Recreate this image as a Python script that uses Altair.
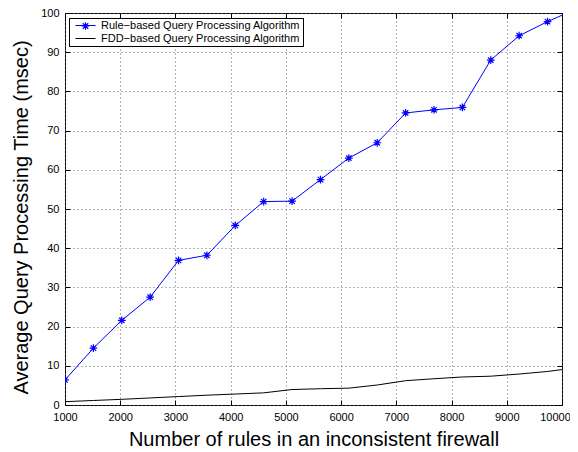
import altair as alt
import pandas as pd

# ---- data ----
rules = [1000, 1514, 2028, 2542, 3056, 3570, 4084, 4598, 5112, 5626,
         6140, 6654, 7168, 7682, 8196, 8710, 9224, 9738, 10252]
rule_based = [6.4, 14.5, 21.6, 27.5, 36.9, 38.2, 45.8, 51.9, 52.0, 57.5,
              63.0, 66.9, 74.5, 75.3, 75.9, 88.0, 94.2, 97.8, 101.0]
fdd_based = [0.85, 1.15, 1.45, 1.8, 2.15, 2.5, 2.8, 3.1, 3.95, 4.15,
             4.3, 5.1, 6.2, 6.7, 7.15, 7.35, 7.9, 8.55, 9.5]
series_names = ["Rule\u2212based Query Processing Algorithm",
                "FDD\u2212based Query Processing Algorithm"]
x_ticks = [1000, 2000, 3000, 4000, 5000, 6000, 7000, 8000, 9000, 10000]
y_ticks = [0, 10, 20, 30, 40, 50, 60, 70, 80, 90, 100]
x_title = "Number of rules in an inconsistent firewall"
y_title = "Average Query Processing Time (msec)"

n = len(rules)
df = pd.DataFrame({
    "rules": rules + rules,
    "time": rule_based + fdd_based,
    "series": [series_names[0]] * n + [series_names[1]] * n,
})

W, H = 497, 392
FONT = "Liberation Sans"
STAR = "M-1,0H1M0,-1V1M-0.7,-0.7L0.7,0.7M-0.7,0.7L0.7,-0.7"

xscale = alt.Scale(domain=[1000, 10000], nice=False, zero=False)
yscale = alt.Scale(domain=[0, 100], nice=False, zero=False)

legend = alt.Legend(
    title=None, orient="none", legendX=4, legendY=5,
    fillColor="white", strokeColor="black", padding=2, rowPadding=1,
    cornerRadius=0, labelFont=FONT, labelFontSize=11, labelColor="black",
    labelLimit=400, labelOffset=5, symbolSize=400, symbolType="stroke",
    symbolStrokeWidth=1, symbolOffset=4, clipHeight=11, zindex=0,
)
color = alt.Color("series:N",
                  scale=alt.Scale(domain=series_names, range=["#0000ff", "#000000"]),
                  legend=legend)

star_legend = alt.Legend(
    title=None, orient="none", legendX=16, legendY=8.5, padding=0,
    labelFontSize=1, labelOpacity=0, labelOffset=0, labelLimit=1,
    symbolSize=60, symbolStrokeWidth=1.2, symbolStrokeColor="#0000ff",
    symbolOffset=0, zindex=2,
)

grid_kw = dict(grid=True, gridDash=[1, 3], gridColor="#666666", gridWidth=1)
tick_kw = dict(labels=False, domain=False, grid=False, title=None,
               ticks=True, tickSize=5, tickColor="black", tickWidth=1)
lab_kw = dict(labelFont=FONT, labelFontSize=11, labelColor="black",
              labelFlush=False, labelOverlap=False, domain=False, tickSize=0,
              titleFont=FONT, titleFontSize=20, titleFontWeight="normal",
              titleColor="black")

base = alt.Chart(df)

blue_line = base.transform_filter(alt.datum.series == series_names[0]).mark_line(
    strokeWidth=1, clip=True).encode(
    x=alt.X("rules:Q", scale=xscale, axis=alt.Axis(
        orient="bottom", values=x_ticks, format="d", labelPadding=6,
        labelOffset={"condition": {"test": "datum.value === 10000", "value": -7},
                     "value": 0},
        title=x_title, titlePadding=7, **lab_kw, **grid_kw)),
    y=alt.Y("time:Q", scale=yscale, axis=alt.Axis(
        orient="left", values=y_ticks, format="d", labelPadding=6,
        title=y_title, titlePadding=9, titleY=H / 2 + 8, **lab_kw, **grid_kw)),
    color=color,
)

blue_pts = base.transform_filter(alt.datum.series == series_names[0]).mark_point(
    size=60, filled=False, strokeWidth=1.2, color="#0000ff",
    opacity=1, clip=True).encode(
    x=alt.X("rules:Q", scale=xscale, axis=alt.Axis(
        orient="top", offset=-H, values=x_ticks, **tick_kw)),
    y=alt.Y("time:Q", scale=yscale, axis=alt.Axis(
        orient="right", offset=-W, values=y_ticks, **tick_kw)),
    shape=alt.Shape("series:N", scale=alt.Scale(domain=[series_names[0]], range=[STAR]),
                    legend=star_legend),
)

black_line = base.transform_filter(alt.datum.series == series_names[1]).mark_line(
    strokeWidth=1, clip=True).encode(
    x=alt.X("rules:Q", scale=xscale, axis=alt.Axis(
        orient="bottom", offset=-H, values=x_ticks, **tick_kw)),
    y=alt.Y("time:Q", scale=yscale, axis=alt.Axis(
        orient="left", offset=-W, values=y_ticks, **tick_kw)),
    color=color,
)

chart = alt.layer(blue_line, blue_pts, black_line).resolve_legend(
    shape="independent", color="independent"
).properties(
    width=W, height=H, autosize="none",
    padding={"left": 57, "top": 5, "right": 8, "bottom": 47},
    background="white",
).configure_view(stroke="black", strokeWidth=1)

chart.save("out.html", embed_options={"renderer": "svg", "actions": False})
